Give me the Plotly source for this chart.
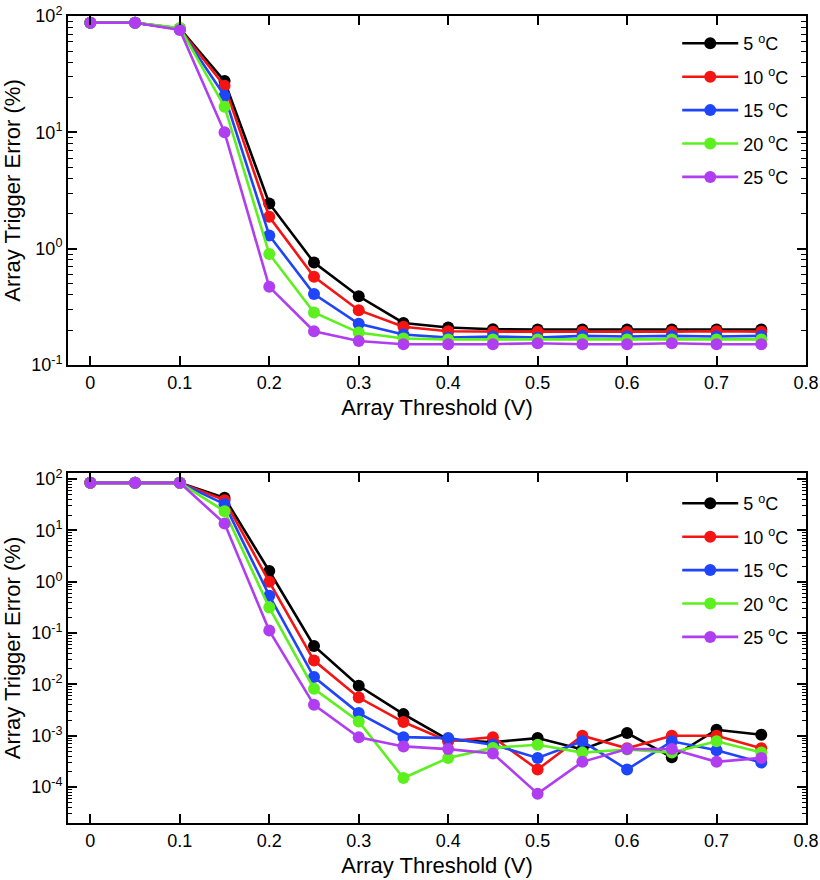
import plotly.graph_objects as go
from plotly.subplots import make_subplots

# ---------------- data ----------------
thresholds = [0, 0.05, 0.1, 0.15, 0.2, 0.25, 0.3, 0.35, 0.4, 0.45, 0.5, 0.55, 0.6, 0.65, 0.7, 0.75]
series_names = ["5 <sup>o</sup>C", "10 <sup>o</sup>C", "15 <sup>o</sup>C", "20 <sup>o</sup>C", "25 <sup>o</sup>C"]

top_5C = [87.5, 87.5, 78, 27.6, 2.45, 0.76, 0.39, 0.23, 0.21, 0.203, 0.202, 0.202, 0.202, 0.202, 0.202, 0.202]
top_10C = [87.5, 87.5, 77, 25.1, 1.88, 0.574, 0.296, 0.213, 0.195, 0.193, 0.193, 0.193, 0.192, 0.193, 0.195, 0.193]
top_15C = [87.5, 87.5, 77, 20.6, 1.30, 0.407, 0.226, 0.183, 0.172, 0.176, 0.172, 0.178, 0.176, 0.178, 0.176, 0.178]
top_20C = [87.5, 87.5, 79, 16.6, 0.90, 0.283, 0.19, 0.169, 0.166, 0.166, 0.166, 0.166, 0.166, 0.166, 0.166, 0.166]
top_25C = [87.5, 87.5, 75.8, 10.0, 0.47, 0.195, 0.161, 0.151, 0.151, 0.151, 0.154, 0.151, 0.151, 0.154, 0.151, 0.151]

bot_5C = [84.7, 84.7, 84.7, 43.3, 1.62, 0.0564, 0.0094, 0.00264, 0.00084, 0.00075, 0.0009, 0.00054, 0.00113, 0.00038, 0.00131, 0.00105]
bot_10C = [84.7, 84.7, 84.7, 39, 1.0, 0.0292, 0.00556, 0.00185, 0.00078, 0.00094, 0.00022, 0.001, 0.00057, 0.001, 0.001, 0.00057]
bot_15C = [84.7, 84.7, 84.7, 32.6, 0.537, 0.0139, 0.00277, 0.00094, 0.0009, 0.00067, 0.00037, 0.00078, 0.00022, 0.00078, 0.00052, 0.0003]
bot_20C = [84.7, 84.7, 84.7, 23.8, 0.315, 0.0082, 0.0019, 0.00015, 0.00037, 0.00058, 0.00067, 0.00047, 0.00054, 0.00047, 0.00078, 0.00047]
bot_25C = [84.7, 84.7, 84.7, 13.7, 0.112, 0.004, 0.00093, 0.00062, 0.00055, 0.00045, 0.0000745, 0.00031, 0.00055, 0.00055, 0.00031, 0.00037]

x_ticks = [0, 0.1, 0.2, 0.3, 0.4, 0.5, 0.6, 0.7, 0.8]
x_ticktext = ["0", "0.1", "0.2", "0.3", "0.4", "0.5", "0.6", "0.7", "0.8"]
top_yticks = [0.1, 1, 10, 100]
top_yticktext = ["10<sup>-1</sup>", "10<sup>0</sup>", "10<sup>1</sup>", "10<sup>2</sup>"]
bot_yticks = [1e-4, 1e-3, 1e-2, 1e-1, 1, 10, 100]
bot_yticktext = ["10<sup>-4</sup>", "10<sup>-3</sup>", "10<sup>-2</sup>", "10<sup>-1</sup>",
                 "10<sup>0</sup>", "10<sup>1</sup>", "10<sup>2</sup>"]

colors = ["#000000", "#f41414", "#1f45fa", "#5cf01e", "#b03ef0"]

# ---------------- figure ----------------
FONT = "Liberation Sans, Arial, sans-serif"
fig = make_subplots(rows=2, cols=1, vertical_spacing=0.1338)

top_series = [top_5C, top_10C, top_15C, top_20C, top_25C]
bot_series = [bot_5C, bot_10C, bot_15C, bot_20C, bot_25C]

for i, (name, ys) in enumerate(zip(series_names, top_series)):
    fig.add_trace(go.Scatter(x=thresholds, y=ys, name=name, mode="lines+markers",
                             line=dict(color=colors[i], width=2.6),
                             marker=dict(color=colors[i], size=12),
                             legend="legend", legendgroup="t%d" % i), row=1, col=1)
for i, (name, ys) in enumerate(zip(series_names, bot_series)):
    fig.add_trace(go.Scatter(x=thresholds, y=ys, name=name, mode="lines+markers",
                             line=dict(color=colors[i], width=2.6),
                             marker=dict(color=colors[i], size=12),
                             legend="legend2", legendgroup="b%d" % i), row=2, col=1)

minor_top = [m * 10 ** e for e in range(-1, 2) for m in range(2, 10)]
minor_bot = [m * 10 ** e for e in range(-5, 2) for m in range(2, 10)]

xaxis_common = dict(range=[-0.025, 0.8], tickvals=x_ticks, ticktext=x_ticktext, automargin=False,
                    ticklabeloverflow="allow",
                    ticks="inside", ticklen=9, tickwidth=1.5, tickcolor="black",
                    showline=True, linecolor="black", linewidth=2, mirror="ticks",
                    showgrid=False, zeroline=False,
                    tickfont=dict(family=FONT, size=18, color="black"),
                    title=dict(text="Array Threshold (V)", standoff=8,
                               font=dict(family=FONT, size=22, color="black")))
fig.update_xaxes(**xaxis_common, row=1, col=1)
fig.update_xaxes(**xaxis_common, row=2, col=1)

yaxis_common = dict(type="log", ticks="inside", ticklen=9, tickwidth=1.5, tickcolor="black",
                    showline=True, linecolor="black", linewidth=2, mirror="ticks", automargin=False,
                    ticklabeloverflow="allow",
                    showgrid=False, zeroline=False,
                    tickfont=dict(family=FONT, size=18, color="black"),
                    title=dict(text="Array Trigger Error (%)", standoff=15,
                               font=dict(family=FONT, size=22, color="black")))
fig.update_yaxes(**yaxis_common, range=[-1, 2], tickvals=top_yticks, ticktext=top_yticktext,
                 minor=dict(tickmode="array", tickvals=minor_top, ticks="inside", ticklen=5,
                            tickwidth=1.2, tickcolor="black", showgrid=False),
                 row=1, col=1)
fig.update_yaxes(**yaxis_common, range=[-4.7, 2.12], tickvals=bot_yticks, ticktext=bot_yticktext,
                 minor=dict(tickmode="array", tickvals=minor_bot, ticks="inside", ticklen=4,
                            tickwidth=1.2, tickcolor="black", showgrid=False),
                 row=2, col=1)

legend_common = dict(font=dict(family=FONT, size=18, color="black"), bgcolor="rgba(0,0,0,0)",
                     tracegroupgap=7, itemwidth=56, xanchor="left", yanchor="top")
fig.update_layout(
    width=820, height=880,
    margin=dict(l=68, r=14, t=16, b=57),
    plot_bgcolor="white", paper_bgcolor="white",
    legend=dict(**legend_common, x=0.8255, y=0.9887),
    legend2=dict(**legend_common, x=0.8255, y=0.4187),
)
fig.update_layout(yaxis=dict(domain=[0.5675, 1.0]), yaxis2=dict(domain=[0.0, 0.4337]))

# remove the default page margin so the figure sits at the window's top-left corner
fig.write_html("out.html", config={"displayModeBar": False},
               post_script="document.body.style.margin='0px';")
